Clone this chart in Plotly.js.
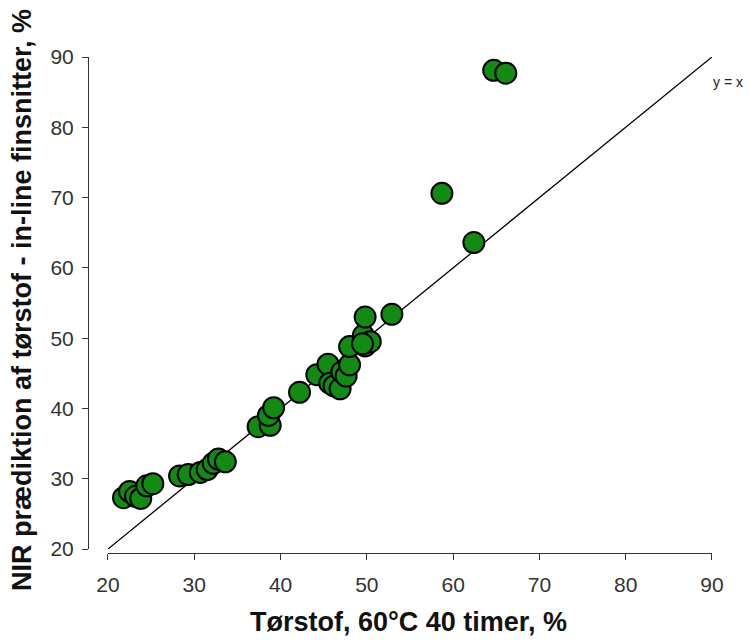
<!DOCTYPE html>
<html><head><meta charset="utf-8">
<script src="https://cdn.plot.ly/plotly-3.0.1.min.js"></script>
<style>body{margin:0;background:#fff}#chart{width:749px;height:642px}</style>
</head><body><div id="chart"></div>
<script>
// Reference values (Tørstof 60°C 40 timer, %) vs NIR prediction (%)
const torstof = [21.8, 22.5, 23.2, 23.8, 24.5, 25.2, 28.3, 29.3, 30.7, 31.5, 32.2, 32.8, 33.6,
  37.4, 38.8, 38.6, 39.2, 42.2, 44.2, 45.5, 45.7, 46.2, 46.9, 47.1, 47.6, 48.0, 48.0,
  49.6, 49.8, 50.4, 49.8, 49.5, 52.9, 58.7, 62.4, 64.7, 66.1];
const nir = [27.3, 28.2, 27.5, 27.2, 29.0, 29.3, 30.4, 30.6, 30.9, 31.3, 32.2, 32.8, 32.4,
  37.4, 37.6, 39.0, 40.1, 42.3, 44.8, 46.3, 43.6, 43.2, 42.8, 45.2, 44.6, 46.2, 48.8,
  50.4, 48.9, 49.5, 53.0, 49.2, 53.4, 70.6, 63.6, 88.1, 87.7];
const lineX = [20, 90];
const lineY = [20, 90];
const tickVals = [20, 30, 40, 50, 60, 70, 80, 90];
const xTitle = 'Tørstof, 60°C 40 timer, %';
const yTitle = 'NIR prædiktion af tørstof - in-line finsnitter, %';

const font = 'Liberation Sans, Arial, sans-serif';
const traces = [
  {x: lineX, y: lineY, mode: 'lines', line: {color: '#000', width: 1.3}, hoverinfo: 'skip', showlegend: false},
  {x: torstof, y: nir, mode: 'markers', type: 'scatter', showlegend: false,
   marker: {size: 21, color: '#138a13', line: {color: '#000', width: 2}}}
];
const layout = {
  width: 749, height: 642,
  margin: {l: 88, r: 37, t: 57, b: 89},
  paper_bgcolor: '#fff', plot_bgcolor: '#fff',
  font: {family: font, color: '#222'},
  xaxis: {range: [20, 90], domain: [0.032, 1], anchor: 'free', position: 0,
    tickvals: tickVals, ticks: 'outside', ticklen: 6, tickcolor: '#333',
    ticklabelstandoff: 7,
    showline: true, linecolor: '#333', linewidth: 1, showgrid: false, zeroline: false,
    tickfont: {size: 21, family: font, color: '#333'}},
  yaxis: {range: [20, 90], domain: [0.008, 1], anchor: 'free', position: 0,
    tickvals: tickVals, ticks: 'outside', ticklen: 6, tickcolor: '#333',
    ticklabelstandoff: 4,
    showline: true, linecolor: '#333', linewidth: 1, showgrid: false, zeroline: false,
    tickfont: {size: 21, family: font, color: '#333'}},
  annotations: [
    {x: 1.026, y: 0.95, xref: 'paper', yref: 'paper', xanchor: 'center', yanchor: 'middle',
     text: 'y = x', showarrow: false, font: {size: 14, family: font, color: '#222'}},
    {x: 0.514, y: -0.139, xref: 'paper', yref: 'paper', xanchor: 'center', yanchor: 'middle',
     text: '<b>' + xTitle + '</b>', showarrow: false, font: {size: 27, family: font, color: '#111'}},
    {x: -0.106, y: 0.51, xref: 'paper', yref: 'paper', xanchor: 'center', yanchor: 'middle',
     text: '<b>' + yTitle + '</b>', showarrow: false, textangle: -90,
     font: {size: 27, family: font, color: '#111'}}
  ]
};
Plotly.newPlot('chart', traces, layout, {displayModeBar: false, staticPlot: true});
</script></body></html>
